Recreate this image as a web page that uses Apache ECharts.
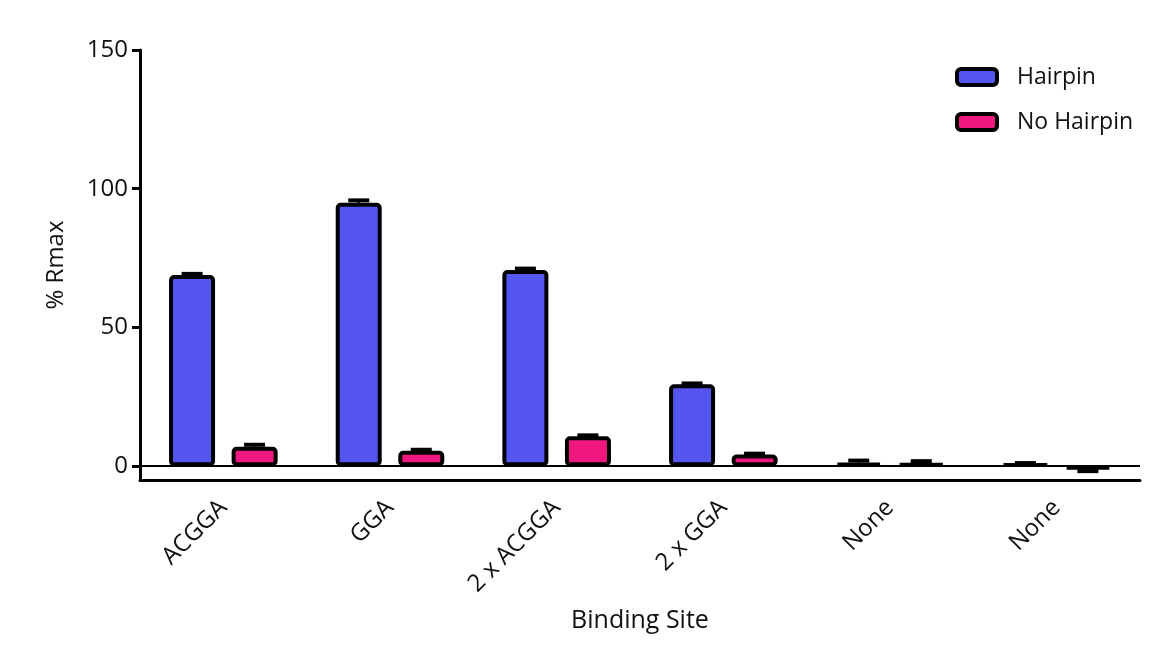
<!DOCTYPE html>
<html>
<head>
<meta charset="utf-8">
<script src="https://cdn.jsdelivr.net/npm/echarts@6/dist/echarts.min.js"></script>
<style>html,body{margin:0;padding:0;background:#fff;}#c{width:1153px;height:655px;}</style>
</head>
<body>
<div id="c"></div>
<script>
var categories = ['ACGGA', 'GGA', '2 x ACGGA', '2 x GGA', 'None', 'None'];
var hairpin = [68.9, 94.9, 70.7, 29.5, 1.2, 0.8];
var hairpinErr = [0.4, 0.9, 0.5, 0.3, 0.8, 0.3];
var noHairpin = [7.0, 5.5, 10.8, 4.2, 1.0, -1.2];
var noHairpinErr = [0.7, 0.4, 0.3, 0.3, 0.8, 0.6];
var yTicks = [0, 50, 100, 150];

var FONT = 'Open Sans';
var chart = echarts.init(document.getElementById('c'));

function errData(vals, errs) {
  return vals.map(function (v, i) { return [i, v, errs[i]]; });
}
function errRender(offset) {
  return function (params, api) {
    var i = api.value(0), v = api.value(1), e = api.value(2);
    var end = v >= 0 ? v + e : v - e;
    var p0 = api.coord([i, v]);
    var p1 = api.coord([i, end]);
    var x = p0[0] + offset;
    return {
      type: 'group',
      children: [
        { type: 'line', shape: { x1: x, y1: p0[1], x2: x, y2: p1[1] }, style: { stroke: '#000', lineWidth: 3 } },
        { type: 'line', shape: { x1: x - 10.5, y1: p1[1], x2: x + 10.5, y2: p1[1] }, style: { stroke: '#000', lineWidth: 4 } }
      ]
    };
  };
}

chart.setOption({
  backgroundColor: '#fff',
  animation: false,
  textStyle: { fontFamily: FONT },
  grid: { left: 140, right: 13, top: 50, bottom: 175, containLabel: false },
  legend: {
    data: ['Hairpin', 'No Hairpin'],
    orient: 'vertical',
    left: 955, top: 65, padding: 0,
    itemWidth: 40, itemHeight: 16, itemGap: 21,
    itemStyle: { borderColor: '#000', borderWidth: 4 },
    textStyle: { fontFamily: FONT, fontSize: 23, color: '#111', padding: [0, 0, 0, 15], lineHeight: 24 }
  },
  xAxis: {
    type: 'category',
    data: categories,
    name: 'Binding Site',
    nameLocation: 'middle',
    nameGap: 128,
    nameTextStyle: { fontFamily: FONT, fontSize: 25, color: '#111' },
    axisLine: { onZero: false, lineStyle: { color: '#000', width: 3 } },
    axisTick: { alignWithLabel: true, length: 10, lineStyle: { color: '#000', width: 3 } },
    axisLabel: { rotate: 45, interval: 0, margin: 24, fontFamily: FONT, fontSize: 24, color: '#111' },
    splitLine: { show: false }
  },
  yAxis: {
    type: 'value',
    min: -5, max: 150,
    name: '% Rmax',
    nameLocation: 'middle',
    nameGap: 72,
    nameTextStyle: { fontFamily: FONT, fontSize: 24, color: '#111' },
    axisLine: { show: true, lineStyle: { color: '#000', width: 3 } },
    axisTick: { show: true, length: 8, customValues: yTicks, lineStyle: { color: '#000', width: 3 } },
    axisLabel: { customValues: yTicks, margin: 12, fontFamily: FONT, fontSize: 24, color: '#111' },
    splitLine: { show: false }
  },
  series: [
    {
      name: 'Hairpin', type: 'bar', data: hairpin,
      barWidth: 46, barGap: '36%',
      itemStyle: { color: '#5555F2', borderColor: '#000', borderWidth: 4, borderRadius: 3 },
      markLine: {
        silent: true, symbol: 'none', label: { show: false },
        lineStyle: { color: '#000', width: 2, type: 'solid' },
        data: [{ yAxis: 0 }]
      },
      z: 2
    },
    {
      name: 'No Hairpin', type: 'bar', data: noHairpin,
      barWidth: 46,
      itemStyle: { color: '#F0177F', borderColor: '#000', borderWidth: 4, borderRadius: 3 },
      z: 2
    },
    {
      type: 'custom', name: 'errH', data: errData(hairpin, hairpinErr),
      renderItem: errRender(-31.25), encode: { x: 0, y: 1 }, z: 3, silent: true
    },
    {
      type: 'custom', name: 'errNH', data: errData(noHairpin, noHairpinErr),
      renderItem: errRender(31.25), encode: { x: 0, y: 1 }, z: 3, silent: true
    }
  ]
});
</script>
</body>
</html>
